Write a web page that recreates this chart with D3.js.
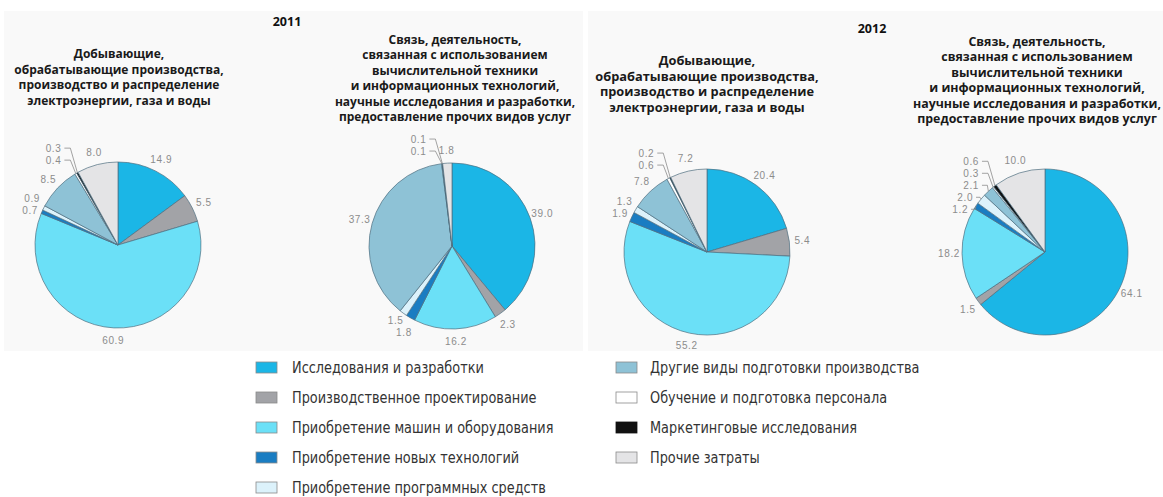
<!DOCTYPE html>
<html><head><meta charset="utf-8">
<script src="https://cdn.jsdelivr.net/npm/d3@7/dist/d3.min.js"></script>
<style>
html,body{margin:0;padding:0;background:#fff;}
svg{display:block;}
</style></head>
<body>
<svg id="chart" width="1163" height="497"></svg>
<script>
// ---- data ----
const categories = [
  "Исследования и разработки",
  "Производственное проектирование",
  "Приобретение машин и оборудования",
  "Приобретение новых технологий",
  "Приобретение программных средств",
  "Другие виды подготовки производства",
  "Обучение и подготовка персонала",
  "Маркетинговые исследования",
  "Прочие затраты"
];
const industry2011 = [14.9, 5.5, 60.9, 0.7, 0.9, 8.5, 0.4, 0.3, 8.0];
const services2011 = [39.0, 2.3, 16.2, 1.8, 1.5, 37.3, 0.1, 0.1, 1.8];
const industry2012 = [20.4, 5.4, 55.2, 1.9, 1.3, 7.8, 0.6, 0.2, 7.2];
const services2012 = [64.1, 1.5, 18.2, 1.2, 2.0, 2.1, 0.3, 0.6, 10.0];
const years = ["2011", "2012"];
const titleIndustry = ["Добывающие,", "обрабатывающие производства,", "производство и распределение", "электроэнергии, газа и воды"];
const titleServices = ["Связь, деятельность,", "связанная с использованием", "вычислительной техники", "и информационных технологий,", "научные исследования и разработки,", "предоставление прочих видов услуг"];

// ---- styles / layout ----
const colors = ["#1bb6e6", "#a2a3a7", "#6be0f7", "#1a7dc2", "#dcf2fb", "#8ec2d6", "#ffffff", "#111111", "#e4e4e6"];
const R = 83;
const pies = [
  {values: industry2011, title: titleIndustry, cx: 118, cy: 245, tx: 119, ty: 58, fs: 12, lh: 15.5, leaders: [6, 7]},
  {values: services2011, title: titleServices, cx: 452, cy: 246, tx: 455, ty: 44, fs: 12, lh: 15.4, leaders: [6, 7]},
  {values: industry2012, title: titleIndustry, cx: 707, cy: 252, tx: 707, ty: 65, fs: 12.8, lh: 15.7, leaders: [6, 7]},
  {values: services2012, title: titleServices, cx: 1045, cy: 252, tx: 1037, ty: 46, fs: 12.4, lh: 15.4, leaders: [3, 4, 5, 6, 7]}
];
const yearPos = [{x: 287, y: 26}, {x: 872, y: 33}];

const svg = d3.select("#chart");
svg.append("rect").attr("x", 4).attr("y", 11).attr("width", 579).attr("height", 340).attr("fill", "#f9f9f9");
svg.append("rect").attr("x", 588).attr("y", 11).attr("width", 575).attr("height", 340).attr("fill", "#f9f9f9");

const fmt = d3.format(".1f");
const pie = d3.pie().sort(null).value(d => d);
const arc = d3.arc().innerRadius(0).outerRadius(R);

years.forEach((y, i) => {
  svg.append("text").attr("x", yearPos[i].x).attr("y", yearPos[i].y)
    .attr("text-anchor", "middle").attr("font-family", "Open Sans, sans-serif")
    .attr("font-weight", "bold").attr("font-size", 12.5).attr("fill", "#111").text(y);
});

pies.forEach(p => {
  const g = svg.append("g");
  const t = g.append("text").attr("text-anchor", "middle")
    .attr("font-family", "Open Sans, sans-serif").attr("font-weight", "bold")
    .attr("font-size", p.fs).attr("fill", "#1a1a1a");
  p.title.forEach((line, k) => {
    t.append("tspan").attr("x", p.tx).attr("y", p.ty + k * p.lh).text(line);
  });
  const arcs = pie(p.values);
  const pg = g.append("g").attr("transform", `translate(${p.cx},${p.cy})`);
  pg.selectAll("path").data(arcs).join("path")
    .attr("d", arc)
    .attr("fill", (d, i) => colors[i])
    .attr("stroke", "#4f6f80").attr("stroke-width", 0.7).attr("stroke-linejoin", "round");

  const mid = d => (d.startAngle + d.endAngle) / 2;
  const labels = arcs.map((d, i) => {
    const a = mid(d), rr = R + 13;
    return {i, v: d.data, x: Math.sin(a) * rr, y: -Math.cos(a) * rr, a};
  }).filter(l => !p.leaders.includes(l.i));
  for (let it = 0; it < 20; it++) {
    for (let a = 0; a < labels.length; a++) for (let b = a + 1; b < labels.length; b++) {
      const A = labels[a], B = labels[b];
      if (Math.abs(A.x - B.x) < 20 && Math.abs(A.y - B.y) < 12) {
        const push = (12 - Math.abs(A.y - B.y)) / 2 + 0.1;
        if (A.y <= B.y) { A.y -= push; B.y += push; } else { A.y += push; B.y -= push; }
      }
    }
  }
  pg.selectAll("text.lbl").data(labels).join("text").attr("class", "lbl")
    .attr("x", d => d.x).attr("y", d => d.y).attr("dy", "0.35em")
    .attr("text-anchor", "middle").attr("font-family", "Liberation Sans, Arial, sans-serif")
    .attr("font-size", 10).attr("letter-spacing", 0.6).attr("fill", "#8c8c8c")
    .text(d => fmt(d.v));

  const lead = p.leaders.slice().sort((a, b) => b - a).map(i => {
    const d = arcs[i], a = mid(d);
    return {i, v: d.data, ax: Math.sin(a) * R, ay: -Math.cos(a) * R};
  });
  const top = lead[0];
  lead.forEach((l, k) => {
    l.ty = top.ay - 24 + k * 12;
    l.xe = Math.min(top.ax - 16, l.ax - 8);
    l.hx = Math.min(l.xe + 9, l.ax - 1);
  });
  pg.selectAll("path.ld").data(lead).join("path").attr("class", "ld")
    .attr("d", d => `M${d.xe + 3},${d.ty - 0.5}L${d.hx},${d.ty - 0.5}L${d.ax},${d.ay}`)
    .attr("fill", "none").attr("stroke", "#8c8c8c").attr("stroke-width", 0.8);
  pg.selectAll("text.ldt").data(lead).join("text").attr("class", "ldt")
    .attr("x", d => d.xe).attr("y", d => d.ty).attr("dy", "0.35em")
    .attr("text-anchor", "end").attr("font-family", "Liberation Sans, Arial, sans-serif")
    .attr("font-size", 10).attr("letter-spacing", 0.6).attr("fill", "#8c8c8c")
    .text(d => fmt(d.v));
});

// legend
const legendCols = [{x: 256, tx: 292, start: 0, end: 5}, {x: 616, tx: 650, start: 5, end: 9}];
const legendY = d3.scalePoint().domain(d3.range(5)).range([368, 488]);
legendCols.forEach(c => {
  const items = d3.range(c.start, c.end);
  const lg = svg.append("g");
  lg.selectAll("rect").data(items).join("rect")
    .attr("x", c.x).attr("y", (d, k) => legendY(k) - 6).attr("width", 21).attr("height", 11)
    .attr("fill", d => colors[d]).attr("stroke", d => d === 7 ? "#111" : "#8a8a8a").attr("stroke-width", 0.8);
  lg.selectAll("text").data(items).join("text")
    .attr("transform", (d, k) => `translate(${c.tx},${legendY(k)}) scale(0.86,1)`)
    .attr("dy", "0.36em")
    .attr("font-family", "DejaVu Sans, sans-serif")
    .attr("font-size", 15).attr("fill", "#333").text(d => categories[d]);
});
</script>
</body></html>
